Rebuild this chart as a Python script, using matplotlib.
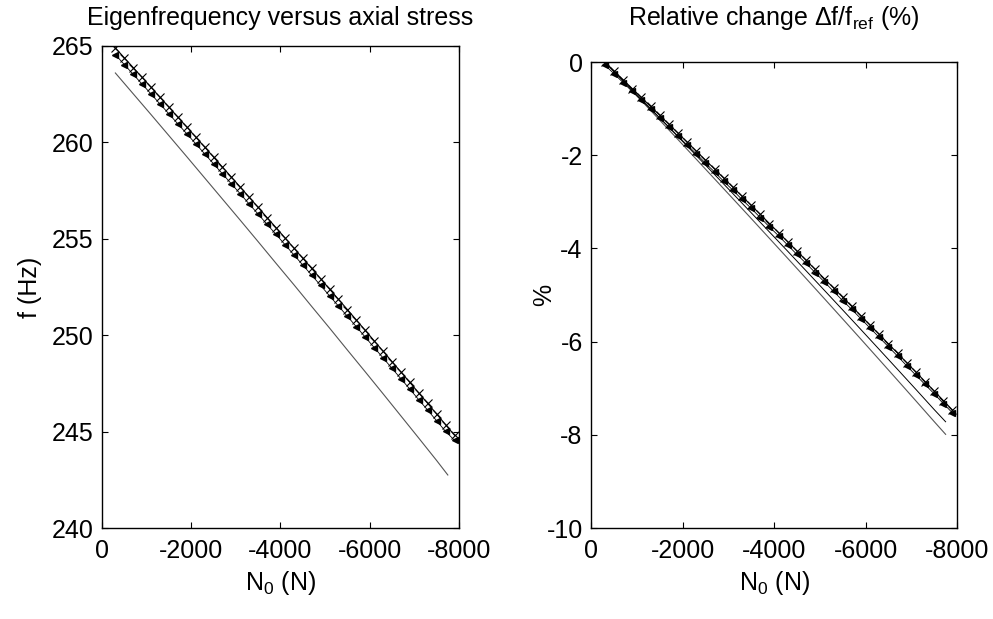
import matplotlib
matplotlib.use("Agg")
import matplotlib.pyplot as plt

plt.rcParams['font.family'] = ['Liberation Sans', 'DejaVu Sans']
plt.rcParams['mathtext.fontset'] = 'custom'
plt.rcParams['mathtext.rm'] = 'Liberation Sans'
plt.rcParams['mathtext.it'] = 'Liberation Sans'
plt.rcParams['axes.unicode_minus'] = False

# axial force grid (N)
N0 = [-300, -500, -700, -900, -1100, -1300, -1500, -1700, -1900, -2100,
      -2300, -2500, -2700, -2900, -3100, -3300, -3500, -3700, -3900, -4100,
      -4300, -4500, -4700, -4900, -5100, -5300, -5500, -5700, -5900, -6100,
      -6300, -6500, -6700, -6900, -7100, -7300, -7500, -7700, -7900]

# eigenfrequency (Hz), main series (x markers)
f_main = [264.90, 264.39, 263.88, 263.37, 262.86, 262.34, 261.83, 261.31, 260.80, 260.28,
          259.76, 259.24, 258.72, 258.20, 257.68, 257.15, 256.63, 256.10, 255.58, 255.05,
          254.52, 253.99, 253.46, 252.93, 252.39, 251.86, 251.33, 250.79, 250.25, 249.71,
          249.17, 248.63, 248.09, 247.55, 247.00, 246.46, 245.91, 245.36, 244.81]
# second series ('<' markers), slightly lower
f_tri = [264.55, 264.04, 263.53, 263.02, 262.51, 261.99, 261.48, 260.96, 260.45, 259.93,
         259.41, 258.89, 258.37, 257.85, 257.33, 256.80, 256.28, 255.75, 255.23, 254.70,
         254.17, 253.64, 253.11, 252.58, 252.04, 251.51, 250.98, 250.44, 249.90, 249.36,
         248.82, 248.28, 247.74, 247.20, 246.65, 246.11, 245.56, 245.01, 244.55]

# coarse grid for reference curves
N0_ref = [-300, -700, -1100, -1500, -1900, -2300, -2700, -3100, -3500, -3900,
          -4300, -4700, -5100, -5500, -5900, -6300, -6700, -7100, -7500, -7750]
f_gray = [263.60, 262.52, 261.44, 260.35, 259.26, 258.16, 257.06, 255.96, 254.85, 253.73,
          252.62, 251.49, 250.37, 249.23, 248.10, 246.96, 245.81, 244.66, 243.50, 242.75]

# relative change (%)
rel_main = [0.0, -0.189, -0.379, -0.569, -0.760, -0.951, -1.142, -1.333, -1.525, -1.717,
            -1.910, -2.103, -2.297, -2.491, -2.685, -2.880, -3.074, -3.270, -3.466, -3.662,
            -3.858, -4.055, -4.253, -4.450, -4.649, -4.847, -5.046, -5.246, -5.445, -5.646,
            -5.846, -6.047, -6.249, -6.451, -6.653, -6.857, -7.060, -7.264, -7.469]
rel_tri = [-0.06, -0.25, -0.44, -0.63, -0.82, -1.01, -1.20, -1.39, -1.59, -1.78,
           -1.97, -2.17, -2.36, -2.56, -2.75, -2.95, -3.14, -3.34, -3.54, -3.73,
           -3.93, -4.13, -4.32, -4.52, -4.72, -4.92, -5.12, -5.31, -5.51, -5.71,
           -5.91, -6.11, -6.31, -6.52, -6.72, -6.92, -7.12, -7.33, -7.53]
rel_black = [0.0, -0.396, -0.796, -1.198, -1.601, -2.006, -2.414, -2.823, -3.234, -3.648,
             -4.062, -4.480, -4.899, -5.320, -5.743, -6.169, -6.596, -7.025, -7.458, -7.72]
rel_gray = [0.0, -0.413, -0.829, -1.246, -1.664, -2.085, -2.508, -2.932, -3.357, -3.785,
            -4.214, -4.645, -5.078, -5.513, -5.949, -6.388, -6.829, -7.271, -7.716, -7.99]

fig = plt.figure(figsize=(9.93, 6.19), dpi=100)
axL = fig.add_axes([0.1027, 0.147, 0.3595, 0.7787])
axR = fig.add_axes([0.5952, 0.147, 0.3686, 0.7528])

fs = 18

# left plot
axL.plot(N0_ref, f_gray, color='#555555', lw=0.8)
axL.plot(N0, f_tri, color='black', lw=0.6, marker='<', ms=4, markerfacecolor='black')
axL.plot(N0, f_main, color='black', lw=0.8, marker='x', ms=6, mew=0.8)
axL.set_xlim(0, -8000)
axL.set_ylim(240, 265)
axL.set_xticks([0, -2000, -4000, -6000, -8000])
axL.set_yticks([240, 245, 250, 255, 260, 265])
axL.set_title('Eigenfrequency versus axial stress', fontsize=fs, pad=15)
axL.set_xlabel('N$_0$ (N)', fontsize=fs, labelpad=4)
axL.set_ylabel('f (Hz)', fontsize=fs)
axL.yaxis.set_label_coords(-0.168, 0.5)

# right plot
axR.plot(N0_ref, rel_gray, color='#555555', lw=0.8)
axR.plot(N0_ref, rel_black, color='black', lw=0.7)
axR.plot(N0, rel_tri, color='black', lw=0.6, marker='<', ms=4, markerfacecolor='black')
axR.plot(N0, rel_main, color='black', lw=0.8, marker='x', ms=6, mew=0.8)
axR.set_xlim(0, -8000)
axR.set_ylim(-10, 0)
axR.set_xticks([0, -2000, -4000, -6000, -8000])
axR.set_yticks([-10, -8, -6, -4, -2, 0])
axR.set_title(r'Relative change $\Delta$f/f$_{\rm ref}$ (%)', fontsize=fs, pad=27)
axR.set_xlabel('N$_0$ (N)', fontsize=fs, labelpad=4)
axR.set_ylabel('%', fontsize=fs)
axR.yaxis.set_label_coords(-0.096, 0.5)

for ax in (axL, axR):
    ax.tick_params(direction='in', top=True, right=True, length=4, width=0.8,
                   labelsize=fs)
    ax.tick_params(axis='x', pad=8)
    ax.tick_params(axis='y', pad=6)
    for sp in ax.spines.values():
        sp.set_linewidth(1.0)

fig.savefig('out.png', dpi=100)
